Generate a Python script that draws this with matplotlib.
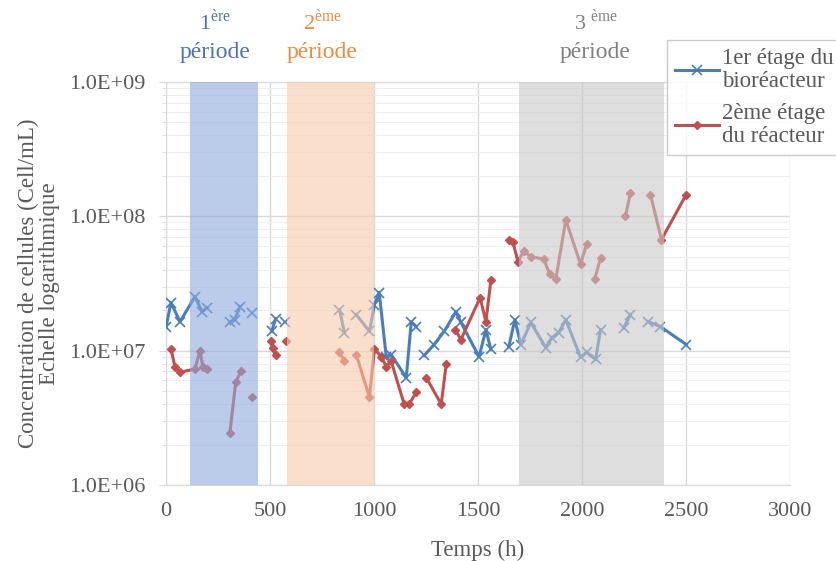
import numpy as np
import matplotlib
matplotlib.use("Agg")
from matplotlib import pyplot as plt
from matplotlib.ticker import FixedLocator, LogLocator, FuncFormatter, NullFormatter

nan = np.nan

# 1er etage du bioreacteur (NaN = break in the line)
t1 = [0, 24, 67, 139, 173, 196, nan,
      307, 331, 355, nan,
      412, nan,
      508, 527, nan,
      570, nan,
      834, 858, nan,
      915, 978, 1002, 1025, 1059, 1083, 1155, 1179, 1203, nan,
      1241, 1289, 1337, 1394, 1418, 1505, 1538, 1562, nan,
      1648, 1677, 1706, 1754, 1826, 1855, 1888, 1922, 1993, 2022, 2065, 2089, nan,
      2200, 2233, nan,
      2319, 2377, 2501]
c1 = [1.5e7, 2.28e7, 1.64e7, 2.52e7, 1.95e7, 2.09e7, nan,
      1.62e7, 1.70e7, 2.13e7, nan,
      1.92e7, nan,
      1.39e7, 1.73e7, nan,
      1.62e7, nan,
      2.02e7, 1.36e7, nan,
      1.85e7, 1.39e7, 2.2e7, 2.7e7, 8.9e6, 9.3e6, 6.3e6, 1.64e7, 1.51e7, nan,
      9.2e6, 1.11e7, 1.39e7, 1.95e7, 1.62e7, 9.0e6, 1.43e7, 1.02e7, nan,
      1.07e7, 1.70e7, 1.11e7, 1.62e7, 1.05e7, 1.25e7, 1.36e7, 1.70e7, 8.9e6, 9.7e6, 8.6e6, 1.43e7, nan,
      1.48e7, 1.85e7, nan,
      1.64e7, 1.51e7, 1.11e7]

# 2eme etage du reacteur
t2 = [24, 43, 67, 139, 163, 177, 196, nan,
      307, 335, 359, nan,
      412, nan,
      503, 513, 527, nan,
      575, nan,
      834, 858, nan,
      915, 978, 1002, 1035, 1059, 1083, 1145, 1169, 1203, nan,
      1251, 1323, 1347, nan,
      1390, 1418, 1510, 1538, 1562, nan,
      1648, 1668, 1692, 1720, 1754, 1816, 1845, 1874, 1922, 1993, 2022, nan,
      2061, 2089, nan,
      2209, 2233, nan,
      2329, 2382, 2501]
c2 = [1.02e7, 7.6e6, 6.9e6, 7.3e6, 1.0e7, 7.6e6, 7.3e6, nan,
      2.45e6, 5.8e6, 7.0e6, nan,
      4.5e6, nan,
      1.17e7, 1.05e7, 9.2e6, nan,
      1.17e7, nan,
      9.8e6, 8.3e6, nan,
      9.3e6, 4.5e6, 1.03e7, 9.0e6, 7.6e6, 8.3e6, 4.0e6, 4.0e6, 4.9e6, nan,
      6.3e6, 4.0e6, 7.9e6, nan,
      1.43e7, 1.21e7, 2.48e7, 1.64e7, 3.38e7, nan,
      6.7e7, 6.4e7, 4.6e7, 5.5e7, 5.0e7, 4.8e7, 3.7e7, 3.4e7, 9.4e7, 4.4e7, 6.2e7, nan,
      3.4e7, 4.9e7, nan,
      1.0e8, 1.5e8, nan,
      1.45e8, 6.7e7, 1.45e8]

# periodes (h)
periods = [(115, 441), (580, 1000), (1696, 2396)]
period_colors = ["#8faadc", "#f8cbad", "#c8c8c8"]
period_text_x = [235, 752, 2065]
period_sup = ["1$^{\\mathrm{ère}}$", "2$^{\\mathrm{ème}}$", "3$^{\\ \\mathrm{ème}}$"]
text_colors = ["#4e72b0", "#ed8b43", "#808080"]

plt.rcParams['font.family'] = ['Liberation Serif', 'DejaVu Serif']
plt.rcParams['mathtext.fontset'] = 'custom'
plt.rcParams['mathtext.rm'] = 'Liberation Serif'

fig = plt.figure(figsize=(8.36, 5.61), dpi=100)
ax = fig.add_axes([0.1986, 0.1355, 0.7464, 0.7185])

ax.plot(t1, c1, color="#4a7ebb", lw=2.2, marker="x", ms=7.5, mew=1.2,
        label="1er étage du\nbioréacteur", zorder=3)
ax.plot(t2, c2, color="#c0504d", lw=2.2, marker="D", ms=4,
        label="2ème étage\ndu réacteur", zorder=3)

for (a, b), col in zip(periods, period_colors):
    ax.axvspan(a, b, color=col, alpha=0.6, lw=0, zorder=4)

for x, s, col in zip(period_text_x, period_sup, text_colors):
    ax.text(x, 1.15, s, transform=ax.get_xaxis_transform(), ha="center",
            va="center", color=col, fontsize=16)
    ax.text(x, 1.074, "période", transform=ax.get_xaxis_transform(), ha="center",
            va="center", color=col, fontsize=17)

ax.set_yscale("log")
ax.set_ylim(1e6, 1e9)
ax.set_xlim(0, 3000)
ax.set_xticks(range(0, 3001, 500))
ax.yaxis.set_major_locator(FixedLocator([1e6, 1e7, 1e8, 1e9]))
ax.yaxis.set_minor_locator(LogLocator(base=10, subs=np.arange(2, 10)))
ax.yaxis.set_minor_formatter(NullFormatter())
ax.yaxis.set_major_formatter(FuncFormatter(lambda v, p: "%.1fE+%02d" % (1.0, int(round(np.log10(v))))))

ax.grid(True, which="major", color="#d9d9d9", lw=1.0, zorder=0)
ax.grid(True, which="minor", axis="y", color="#eeeeee", lw=0.8, zorder=0)
ax.set_axisbelow(True)

for s in ["top", "right"]:
    ax.spines[s].set_visible(False)
for s in ["left", "bottom"]:
    ax.spines[s].set_color("#d9d9d9")

ax.tick_params(axis="both", which="both", colors="#d9d9d9", labelcolor="#595959", labelsize=16)
ax.tick_params(axis="x", length=0, pad=12)
ax.tick_params(axis="y", which="major", length=5, pad=10)
ax.tick_params(axis="y", which="minor", length=3)

ax.set_xlabel("Temps (h)", fontsize=16.5, color="#595959", labelpad=14)
ax.set_ylabel("Concentration de cellules (Cell/mL)\nEchelle logarithmique",
              fontsize=16.5, color="#595959", labelpad=6, linespacing=1.0)

leg = ax.legend(loc="upper left", bbox_to_anchor=(0.803, 1.104), fontsize=16.5,
                frameon=True, fancybox=False, edgecolor="#bfbfbf",
                handlelength=1.9, handletextpad=0.15, borderpad=0.35,
                labelspacing=0.45, borderaxespad=0)
leg.get_frame().set_linewidth(1.0)
for t in leg.get_texts():
    t.set_color("#595959")
    t.set_linespacing(1.15)

fig.savefig("out.png", dpi=100)
